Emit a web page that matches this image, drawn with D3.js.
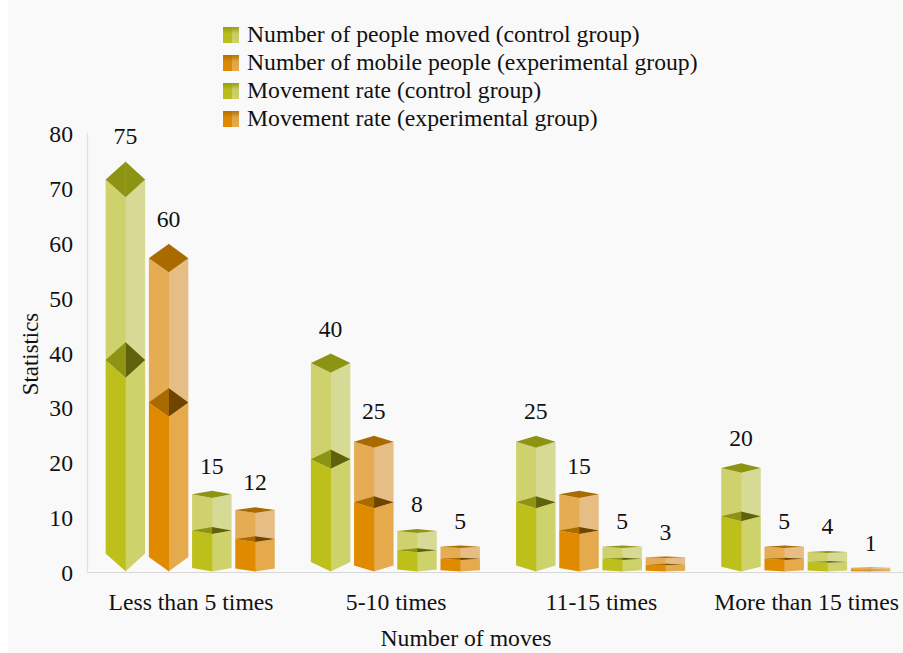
<!DOCTYPE html>
<html>
<head>
<meta charset="utf-8">
<script src="https://cdn.jsdelivr.net/npm/d3@7/dist/d3.min.js"></script>
<style>
html, body { margin: 0; padding: 0; background: #ffffff; }
svg { display: block; }
text { font-family: "Liberation Serif", serif; fill: #111; }
</style>
</head>
<body>
<svg id="chart" width="903" height="653"></svg>
<script>
const categories = ["Less than 5 times", "5-10 times", "11-15 times", "More than 15 times"];
const seriesNames = [
  "Number of people moved (control group)",
  "Number of mobile people (experimental group)",
  "Movement rate (control group)",
  "Movement rate (experimental group)"
];
const movedControl = [75, 40, 25, 20];
const movedExperimental = [60, 25, 15, 5];
const rateControl = [15, 8, 5, 4];
const rateExperimental = [12, 5, 3, 1];
// inner tier of each column, in the same group order
const innerMovedControl = [42.1, 22.5, 14, 11.2];
const innerMovedExperimental = [33.7, 14, 8.4, 2.8];
const innerRateControl = [8.4, 4.5, 2.8, 2.2];
const innerRateExperimental = [6.7, 2.8, 1.7, 0.6];
const yTicks = [0, 10, 20, 30, 40, 50, 60, 70, 80];

const columns = [
  { values: movedControl, inner: innerMovedControl, hue: "olive" },
  { values: movedExperimental, inner: innerMovedExperimental, hue: "orange" },
  { values: rateControl, inner: innerRateControl, hue: "olive" },
  { values: rateExperimental, inner: innerRateExperimental, hue: "orange" }
];

const palette = {
  olive: { low: "#bdbf1b", lowR: "#cdd26a", up: "#cfd26c", upR: "#d6da94", cap: "#8d9414", capR: "#5f610c" },
  orange: { low: "#e08a00", lowR: "#e5aa4c", up: "#e5ac54", upR: "#e6bd85", cap: "#a96a00", capR: "#6e4400" }
};

const FONT = 23.7;
const svg = d3.select("#chart");
svg.append("rect").attr("x", 8).attr("y", 0).attr("width", 895).attr("height", 653).attr("fill", "#f9f9f9");

const x = d3.scaleBand().domain(categories).range([87.4, 908.2]);
const inner = d3.scaleBand().domain(d3.range(columns.length)).range([18.25, 187.35]).paddingInner(0.086).paddingOuter(0);
const y = d3.scaleLinear().domain([0, 80]).range([573, 134]);
// the prism's cap depth grows with the column's value
const capDepth = v => v * 0.24;

const chart = svg.append("g");

// axis lines
chart.append("line").attr("x1", 87).attr("x2", 903).attr("y1", 572.5).attr("y2", 572.5)
  .attr("stroke", "#d8d8d8").attr("stroke-width", 1.2);
chart.append("line").attr("x1", 87.5).attr("x2", 87.5).attr("y1", 133).attr("y2", 573)
  .attr("stroke", "#e0e0e0").attr("stroke-width", 1.2);

// y axis labels
const yAxis = chart.append("g").attr("transform", "translate(73,0)")
  .call(d3.axisLeft(y).tickValues(yTicks).tickSize(0).tickPadding(0));
yAxis.select(".domain").remove();
yAxis.selectAll("text").attr("font-size", FONT).attr("font-family", "Liberation Serif").attr("fill", "#111");

// x axis labels
const xAxis = chart.append("g").attr("transform", "translate(1,593)")
  .call(d3.axisBottom(x).tickSize(0).tickPadding(0));
xAxis.select(".domain").remove();
xAxis.selectAll("text").attr("font-size", FONT).attr("font-family", "Liberation Serif").attr("fill", "#111");

function prism(group, cx, halfW, base, top, d, left, right) {
  // base/top are the front vertices of the lower and upper rims; the left
  // face is laid over the right one so no seam shows along the front edge
  const seam = cx + 0.4;
  group.append("polygon")
    .attr("points", [[cx + halfW, base - d], [cx, base], [cx, top], [cx + halfW, top - d]].join(" ")).attr("fill", right);
  group.append("polygon")
    .attr("points", [[cx - halfW, base - d], [seam, base], [seam, top], [cx - halfW, top - d]].join(" ")).attr("fill", left);
}

function cap(group, cx, halfW, front, d, left, right) {
  group.append("polygon")
    .attr("points", [[cx + halfW, front - d], [cx, front - 2 * d], [cx, front]].join(" ")).attr("fill", right);
  group.append("polygon")
    .attr("points", [[cx - halfW, front - d], [cx + 0.4, front - 2 * d], [cx + 0.4, front]].join(" ")).attr("fill", left);
}

categories.forEach((cat, i) => {
  columns.forEach((col, j) => {
    const v = col.values[i], w = col.inner[i], c = palette[col.hue];
    const cx = x(cat) + inner(j) + inner.bandwidth() / 2;
    const halfW = inner.bandwidth() / 2;
    const d = capDepth(v);
    const g = chart.append("g");
    const base = y(0) - 1.5;
    const topFront = y(v) + 2 * d;
    const midFront = y(w) + 2 * d;
    prism(g, cx, halfW, base, midFront, d, c.low, c.lowR);
    prism(g, cx, halfW, midFront, topFront, d, c.up, c.upR);
    cap(g, cx, halfW, midFront, d, c.cap, c.capR);
    cap(g, cx, halfW, topFront, d, c.cap, c.cap);
    chart.append("text").attr("x", cx).attr("y", y(v) - 17).attr("text-anchor", "middle")
      .attr("font-size", FONT).text(v);
  });
});

// axis titles
chart.append("text").attr("x", 466).attr("y", 646).attr("text-anchor", "middle").attr("font-size", FONT).text("Number of moves");
chart.append("text").attr("transform", "translate(38,354) rotate(-90)").attr("text-anchor", "middle").attr("font-size", 22.8).text("Statistics");

// legend keys: a two-tone swatch darkened toward its top edge
const defs = svg.append("defs");
["olive", "orange"].forEach(h => {
  const c = palette[h];
  const grad = defs.append("linearGradient").attr("id", "key-" + h).attr("x1", 0).attr("x2", 0).attr("y1", 0).attr("y2", 1);
  grad.append("stop").attr("offset", "0%").attr("stop-color", c.cap).attr("stop-opacity", 0.85);
  grad.append("stop").attr("offset", "40%").attr("stop-color", c.cap).attr("stop-opacity", 0.1);
  grad.append("stop").attr("offset", "100%").attr("stop-color", c.cap).attr("stop-opacity", 0);
});
const legendY = d3.scalePoint().domain(seriesNames).range([35, 119]);
const legend = chart.selectAll("g.key").data(seriesNames).join("g").attr("class", "key")
  .attr("transform", d => `translate(223,${legendY(d)})`);
legend.append("rect").attr("x", 0).attr("y", -8).attr("width", 9).attr("height", 16)
  .attr("fill", (d, i) => palette[columns[i].hue].low);
legend.append("rect").attr("x", 9).attr("y", -8).attr("width", 7).attr("height", 16)
  .attr("fill", (d, i) => palette[columns[i].hue].lowR);
legend.append("rect").attr("x", 0).attr("y", -8).attr("width", 16).attr("height", 16)
  .attr("fill", (d, i) => `url(#key-${columns[i].hue})`);
legend.append("text").attr("x", 24).attr("y", 7).attr("font-size", FONT).text(d => d);
</script>
</body>
</html>
